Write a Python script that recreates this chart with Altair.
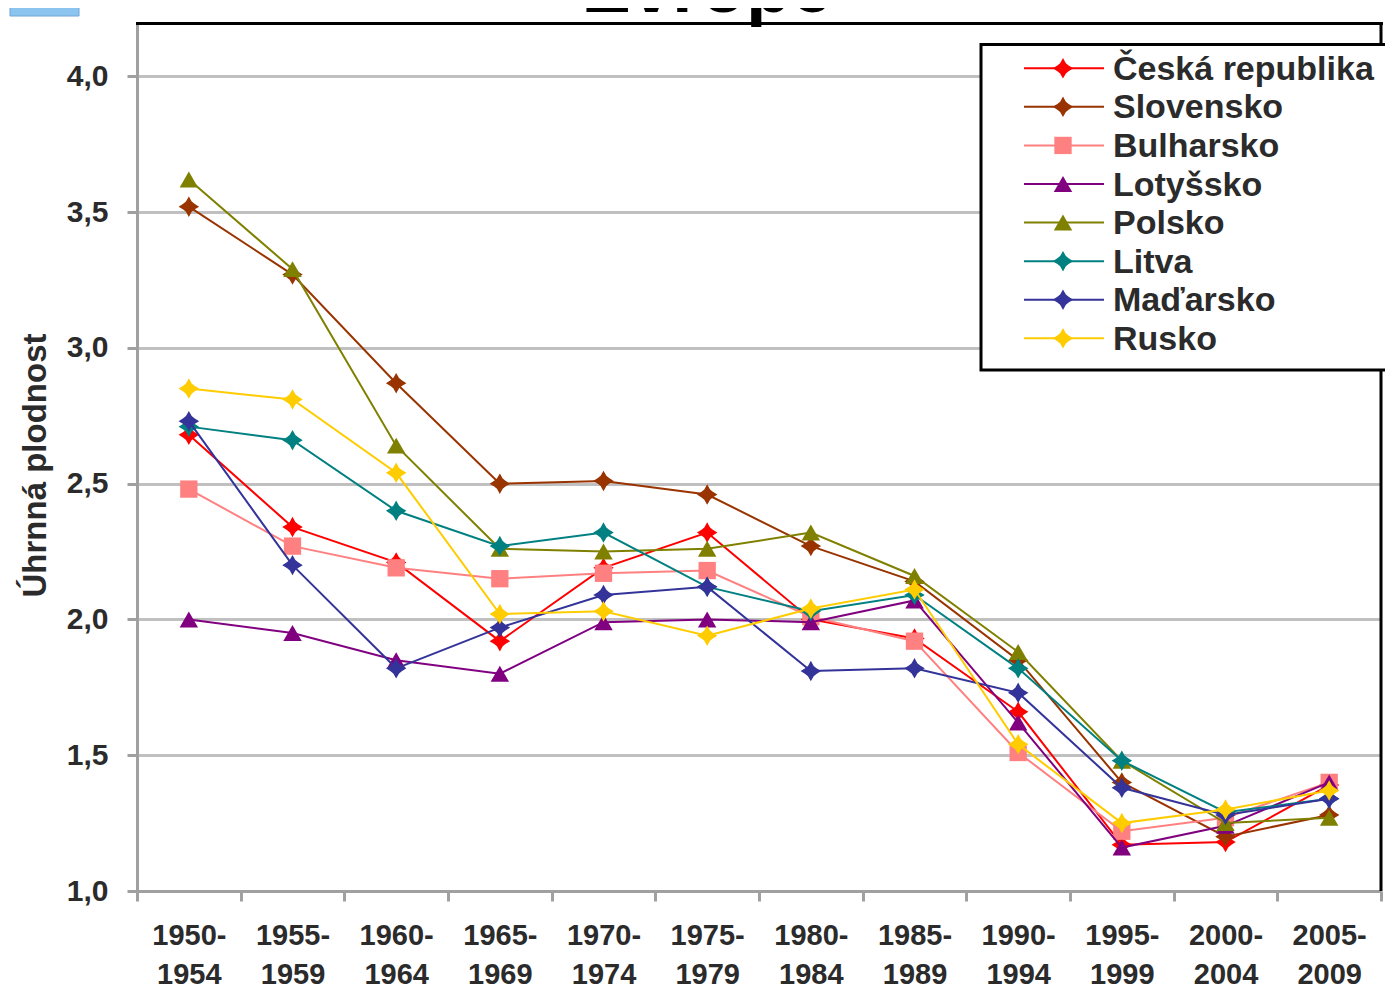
import altair as alt
import pandas as pd

periods = ["1950-1954", "1955-1959", "1960-1964", "1965-1969", "1970-1974", "1975-1979",
           "1980-1984", "1985-1989", "1990-1994", "1995-1999", "2000-2004", "2005-2009"]

series_names = ["Česká republika", "Slovensko", "Bulharsko", "Lotyšsko",
                "Polsko", "Litva", "Maďarsko", "Rusko"]

cz = [2.68, 2.34, 2.21, 1.92, 2.19, 2.32, 2.00, 1.93, 1.66, 1.17, 1.18, 1.39]
sk = [3.52, 3.27, 2.87, 2.50, 2.51, 2.46, 2.27, 2.14, 1.85, 1.40, 1.20, 1.28]
bg = [2.48, 2.27, 2.19, 2.15, 2.17, 2.18, 2.01, 1.92, 1.51, 1.22, 1.27, 1.40]
lv = [2.00, 1.95, 1.85, 1.80, 1.99, 2.00, 1.99, 2.07, 1.62, 1.16, 1.24, 1.40]
pl = [3.62, 3.29, 2.64, 2.26, 2.25, 2.26, 2.32, 2.16, 1.88, 1.48, 1.25, 1.27]
lt = [2.71, 2.66, 2.40, 2.27, 2.32, 2.12, 2.03, 2.09, 1.82, 1.48, 1.29, 1.34]
hu = [2.73, 2.20, 1.82, 1.97, 2.09, 2.12, 1.81, 1.82, 1.73, 1.38, 1.28, 1.34]
ru = [2.85, 2.81, 2.54, 2.02, 2.03, 1.94, 2.04, 2.11, 1.54, 1.25, 1.30, 1.37]

series_values = [cz, sk, bg, lv, pl, lt, hu, ru]
y_ticks = [1.0, 1.5, 2.0, 2.5, 3.0, 3.5, 4.0]

colors = ["#FF0000", "#993300", "#FF8080", "#800080", "#808000", "#008080", "#333399", "#FFCC00"]
DIAMOND = ("M0,-1 L0.28,-0.5 L0.55,-0.28 L1,0 L0.55,0.28 L0.28,0.5 L0,1 "
           "L-0.28,0.5 L-0.55,0.28 L-1,0 L-0.55,-0.28 L-0.28,-0.5 Z")
shapes = [DIAMOND, DIAMOND, "square", "triangle-up", "triangle-up", DIAMOND, DIAMOND, DIAMOND]
sizes = [420, 420, 300, 340, 340, 420, 420, 420]

FONT = "Liberation Sans"
W, H = 1244, 869

x_enc = alt.X(
    "period:O", sort=periods,
    scale=alt.Scale(type="band", domain=periods, paddingInner=0, paddingOuter=0),
    bandPosition=0.5,
    axis=alt.Axis(
        title=None, grid=False, tickBand="extent",
        domainColor="#a0a0a0", domainWidth=3, tickColor="#a0a0a0", tickWidth=3, tickSize=10,
        labelFont=FONT, labelFontWeight="bold", labelFontSize=29, labelColor="#2b2b2b",
        labelPadding=20, labelLineHeight=39, labelAngle=0, labelOverlap=False,
        labelExpr="[slice(datum.label, 0, 5), slice(datum.label, 5)]",
    ),
)
y_enc = alt.Y(
    "value:Q",
    scale=alt.Scale(domain=[1.0, 4.2], nice=False, zero=False),
    axis=alt.Axis(
        values=y_ticks, grid=True, gridColor="#c0c0c0", gridWidth=3,
        domainColor="#a0a0a0", domainWidth=3, tickColor="#a0a0a0", tickWidth=3, tickSize=10,
        labelFont=FONT, labelFontWeight="bold", labelFontSize=30, labelColor="#2b2b2b",
        labelPadding=19, labelBaseline="middle",
        labelExpr="replace(format(datum.value, '.1f'), '.', ',')",
        title="Úhrnná plodnost", titleFont=FONT, titleFontWeight="bold", titleFontSize=33,
        titleColor="#2b2b2b", titleAngle=270, titleX=-92, titleY=443, titleBaseline="alphabetic",
        titleAlign="center",
    ),
)

layers = []
dummy = pd.DataFrame({"a": [0]})

# chart title (cut off at top, as in the reference)
layers.append(
    alt.Chart(dummy).mark_text(text="Evrope", font=FONT, fontWeight="bold", fontSize=74,
                               color="black", align="center", baseline="alphabetic")
    .encode(x=alt.value(570), y=alt.value(-10))
)
# small blue bar top-left
layers.append(
    alt.Chart(dummy).mark_rect(fill="#8cc4f0", stroke="#6fa6d6", strokeWidth=1)
    .encode(x=alt.value(-127), x2=alt.value(-58), y=alt.value(-15), y2=alt.value(-6))
)

for name, vals, col, shp, sz in zip(series_names, series_values, colors, shapes, sizes):
    df = pd.DataFrame({"period": periods, "value": vals, "series": name})
    base = alt.Chart(df).encode(x=x_enc, y=y_enc)
    layers.append(base.mark_line(color=col, strokeWidth=2))
    layers.append(base.mark_point(shape=shp, size=sz, filled=True, color=col, opacity=1, strokeWidth=0))

# plot border top and right
layers.append(alt.Chart(dummy).mark_rule(color="black", strokeWidth=3)
              .encode(y=alt.value(1.5), x=alt.value(-1), x2=alt.value(W + 2)))
layers.append(alt.Chart(dummy).mark_rule(color="black", strokeWidth=3)
              .encode(x=alt.value(W), y=alt.value(0), y2=alt.value(H)))

# legend box
layers.append(
    alt.Chart(dummy).mark_rect(fill="white", stroke="black", strokeWidth=3)
    .encode(x=alt.value(844), x2=alt.value(1300), y=alt.value(22.5), y2=alt.value(348))
)
for i, (name, col, shp, sz) in enumerate(zip(series_names, colors, shapes, sizes)):
    yy = 46.3 + 38.57 * i
    row = pd.DataFrame({"series": [name]})
    layers.append(alt.Chart(row).mark_rule(color=col, strokeWidth=2)
                  .encode(x=alt.value(887), x2=alt.value(967), y=alt.value(yy)))
    layers.append(alt.Chart(row).mark_point(shape=shp, size=sz, filled=True, color=col,
                                            opacity=1, strokeWidth=0)
                  .encode(x=alt.value(926), y=alt.value(yy)))
    layers.append(alt.Chart(row).mark_text(font=FONT, fontWeight="bold", fontSize=34,
                                           color="#2b2b2b", align="left", baseline="alphabetic")
                  .encode(x=alt.value(976), y=alt.value(yy + 11.5), text="series:N"))

chart = alt.layer(*layers).properties(
    width=W, height=H,
    padding={"left": 129, "top": 14, "right": 4, "bottom": 101},
    autosize=alt.AutoSizeParams(type="none"),
).configure_view(stroke=None)

chart.save("out.html", embed_options={"renderer": "svg", "actions": False})
